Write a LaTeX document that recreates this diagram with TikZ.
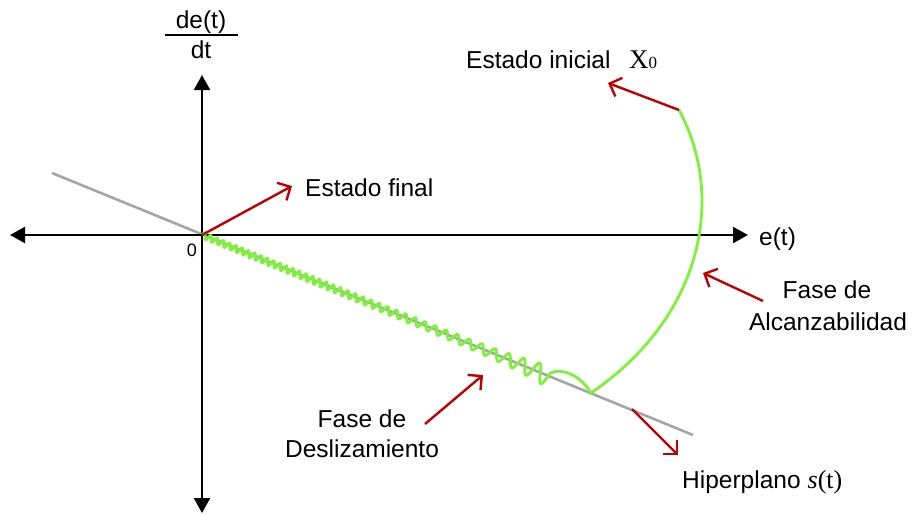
\documentclass[tikz,border=0pt]{standalone}
\usepackage{fontspec}
\setmainfont{Liberation Sans}
\newfontfamily\seriffont{Liberation Serif}
\usetikzlibrary{arrows.meta}
\definecolor{wavegreen}{RGB}{124,242,56}
\definecolor{arrred}{RGB}{192,0,0}
\definecolor{hypgray}{RGB}{165,165,165}
\tikzset{axtip/.tip={Triangle[length=15pt,width=16pt]}}
\begin{document}
\begin{tikzpicture}[x=1pt,y=-1pt,
  axisline/.style={line width=2.2pt,black},
  redarrow/.style={line width=2.4pt,arrred,-{Straight Barb[length=10pt,width=20pt]}},
  hyper/.style={line width=2.6pt,hypgray},
  wave/.style={line width=2.8pt,wavegreen,line join=round},
  lbl/.style={font=\fontsize{24.5}{28}\selectfont,inner sep=0pt},
  small/.style={font=\fontsize{18}{20}\selectfont,inner sep=0pt},
  declare function={vv(\t)=0.74*\t+0.26*\t^4.52; ss(\t)=374*vv(\t); aa(\t)=3.0+1.3*vv(\t)+6.5*vv(\t)^10;}]
\useasboundingbox (0,0) rectangle (914,515);
% coordinates
\coordinate (O) at (202,235);
\coordinate (xl) at (10,235);
\coordinate (xr) at (748,235);
\coordinate (yt) at (202,75);
\coordinate (yb) at (202,513);
\coordinate (h1) at (52,173);
\coordinate (h2) at (693,435);
\coordinate (wend) at (548,376);
\coordinate (bend) at (591,393);
\coordinate (x0) at (679,110);
% hyperplane
\draw[hyper] (h1) -- (h2);
% axes
\draw[axisline,axtip-axtip] (xl) -- (xr);
\draw[axisline,axtip-axtip] (yb) -- (yt);
% sliding wave
\draw[wave] plot[domain=0.0002:1,samples=901,variable=\t]
  ({202+0.926*ss(\t)+0.377*aa(\t)*sin(14760*\t)},{235+0.377*ss(\t)-0.926*aa(\t)*sin(14760*\t)});
\draw[wave] (wend) .. controls (551,368) and (576,368) .. (bend);
\draw[wave] (bend) .. controls (705,315) and (725,195) .. (x0);
% red arrows
\coordinate (a1e) at (292,186);
\coordinate (a2e) at (608,83);
\coordinate (a3s) at (763,301);
\coordinate (a3e) at (703,273);
\coordinate (a4s) at (425,424);
\coordinate (a4e) at (483,375);
\coordinate (a5s) at (632,409);
\coordinate (a5e) at (678,455);
\draw[redarrow] (O) -- (a1e);
\draw[redarrow] (x0) -- (a2e);
\draw[redarrow] (a3s) -- (a3e);
\draw[redarrow] (a4s) -- (a4e);
\draw[redarrow] (a5s) -- (a5e);
% fraction label
\node[lbl,anchor=base] (num) at (201,28) {de(t)};
\node[lbl,anchor=base] (den) at (201,58) {dt};
\coordinate (barl) at (165,35);
\coordinate (barr) at (238,35);
\draw[line width=2pt] (barl) -- (barr);
% labels
\node[small,anchor=base] (zero) at (192,256) {0};
\node[lbl,anchor=base west] (et) at (759,245) {e(t)};
\node[lbl,anchor=base west] (efin) at (305,196) {Estado final};
\node[lbl,anchor=base west] (eini) at (466,68) {Estado inicial};
\node[lbl,anchor=base west] (xzero) at (629,68) {\seriffont\fontsize{27}{30}\selectfont X{\fontsize{17}{18}\selectfont 0}};
\node[lbl,anchor=base] (fa1) at (827,298) {Fase de};
\node[lbl,anchor=base] (fa2) at (828,330) {Alcanzabilidad};
\node[lbl,anchor=base] (fd1) at (362,427) {Fase de};
\node[lbl,anchor=base] (fd2) at (362,457) {Deslizamiento};
\node[lbl,anchor=base west] (hip) at (682,488) {Hiperplano\hspace{7pt}{\seriffont\fontsize{26}{28}\selectfont\textit{s}(t)}};
\end{tikzpicture}
\end{document}
